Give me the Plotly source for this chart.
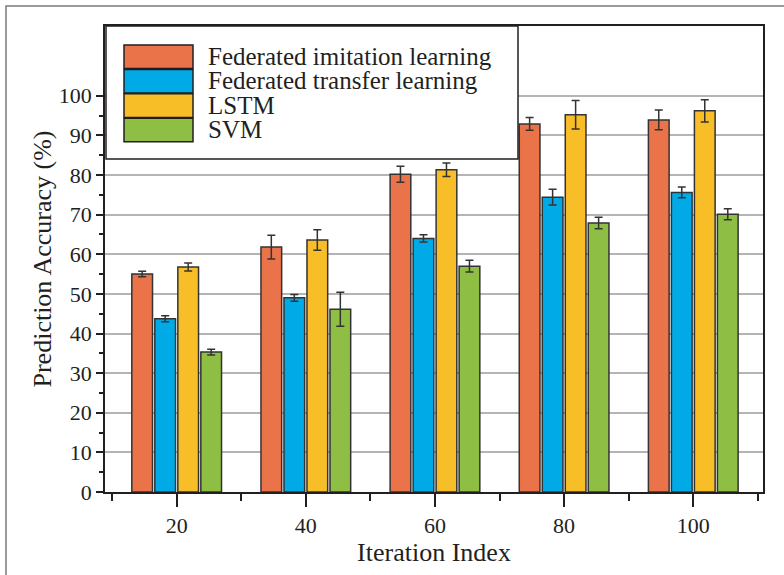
import plotly.graph_objects as go

iterations = [20, 40, 60, 80, 100]
series_names = ["Federated imitation learning", "Federated transfer learning", "LSTM", "SVM"]
series_colors = ["#EA7349", "#00AAE6", "#F7BE28", "#8FBE45"]

fil_vals = [55.0, 61.8, 80.2, 92.9, 93.9]
fil_err = [0.7, 3.0, 2.0, 1.6, 2.5]
ftl_vals = [43.7, 49.0, 64.0, 74.4, 75.6]
ftl_err = [0.75, 0.85, 0.9, 2.0, 1.35]
lstm_vals = [56.8, 63.6, 81.3, 95.2, 96.2]
lstm_err = [1.0, 2.6, 1.7, 3.6, 2.8]
svm_vals = [35.3, 46.1, 57.0, 67.9, 70.1]
svm_err = [0.75, 4.3, 1.5, 1.45, 1.4]

y_ticks = [0, 10, 20, 30, 40, 50, 60, 70, 80, 90, 100]
y_minor = [5, 15, 25, 35, 45, 55, 65, 75, 85, 95]

values = [fil_vals, ftl_vals, lstm_vals, svm_vals]
errors = [fil_err, ftl_err, lstm_err, svm_err]

FONT = "Liberation Serif, Times New Roman, serif"
TXT = "#231f20"
W, H = 784, 575
ML, MR, MT, MB = 105, 21, 26, 83
PW, PH = W - ML - MR, H - MT - MB


def fx(px):
    return (px - ML) / PW


def fy(py):
    return (H - MB - py) / PH


fig = go.Figure()
for name, col, v, e in zip(series_names, series_colors, values, errors):
    fig.add_trace(go.Bar(
        x=iterations, y=v, name=name,
        marker=dict(color=col, line=dict(color="#333333", width=1.5)),
        error_y=dict(type="data", array=e, visible=True, color="#333333",
                     thickness=1.5, width=4),
        showlegend=False,
    ))

shapes = []
annotations = []
# outer frame
shapes.append(dict(type="rect", xref="paper", yref="paper",
                   x0=fx(6), x1=fx(800), y0=fy(590), y1=fy(6),
                   line=dict(color="#7a7a7a", width=1.5), fillcolor="rgba(0,0,0,0)",
                   layer="below"))
# legend box
shapes.append(dict(type="rect", xref="paper", yref="paper",
                   x0=fx(106), x1=fx(518), y0=fy(159), y1=1,
                   line=dict(color="#231f20", width=1.5), fillcolor="white",
                   layer="above"))
for i, (name, col) in enumerate(zip(series_names, series_colors)):
    top = 45 + i * 24.4
    shapes.append(dict(type="rect", xref="paper", yref="paper",
                       x0=fx(124), x1=fx(193), y0=fy(top + 23.6), y1=fy(top),
                       line=dict(color="#231f20", width=1.5), fillcolor=col,
                       layer="above"))
    annotations.append(dict(xref="paper", yref="paper", x=fx(206), y=fy(top + 11.5),
                            xanchor="left", yanchor="middle", showarrow=False,
                            text=name, font=dict(family=FONT, size=25, color=TXT)))

fig.update_layout(
    width=W, height=H,
    margin=dict(l=ML, r=MR, t=MT, b=MB, autoexpand=False),
    paper_bgcolor="white", plot_bgcolor="white",
    barmode="group", bargap=0.2875, bargroupgap=0.1,
    font=dict(family=FONT, color=TXT),
    shapes=shapes, annotations=annotations,
)
fig.update_xaxes(
    automargin=False,
    range=[8.9, 110.8], tickvals=iterations, ticktext=[str(v) for v in iterations],
    ticks="outside", ticklen=13, tickwidth=1.5, tickcolor=TXT,
    showline=True, linecolor=TXT, linewidth=1.5, mirror=True,
    showgrid=False, zeroline=False,
    tickfont=dict(family=FONT, size=22, color=TXT),
    minor=dict(tickvals=[10, 30, 50, 70, 90, 110], ticks="outside", ticklen=7,
               tickwidth=1.5, tickcolor=TXT, showgrid=False),
    title=dict(text="Iteration Index", font=dict(family=FONT, size=26, color=TXT), standoff=0),
)
fig.update_yaxes(
    automargin=False,
    range=[0, 117.6], tickvals=y_ticks, ticktext=[str(v) for v in y_ticks],
    ticks="outside", ticklen=7, tickwidth=1.5, tickcolor=TXT,
    showline=True, linecolor=TXT, linewidth=1.5, mirror=True,
    showgrid=True, gridcolor="#b4b4b4", gridwidth=1.5, zeroline=False,
    tickfont=dict(family=FONT, size=22, color=TXT),
    minor=dict(tickvals=y_minor, ticks="outside", ticklen=4,
               tickwidth=1.5, tickcolor=TXT, showgrid=False),
    title=dict(text="Prediction Accuracy (%)", font=dict(family=FONT, size=26, color=TXT), standoff=0),
)

fig.write_html("out.html", config={"displayModeBar": False},
               post_script="document.body.style.margin='0';document.body.style.overflow='hidden';")
